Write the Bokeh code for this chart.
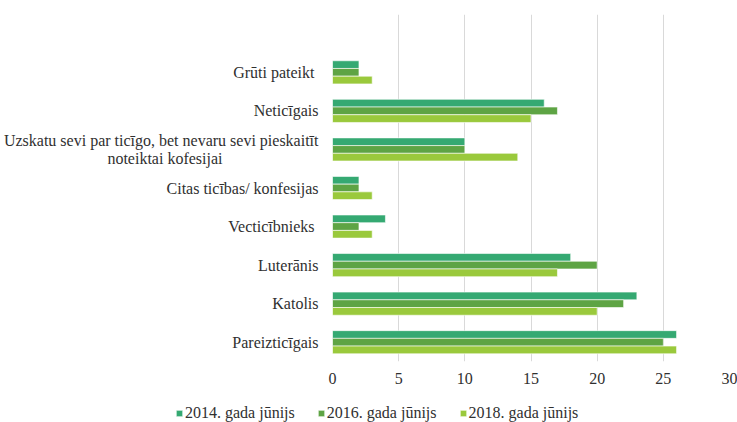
from bokeh.plotting import figure
from bokeh.layouts import column
from bokeh.models import ColumnDataSource, FactorRange, Range1d, FixedTicker, Legend, LegendItem
from bokeh.transform import dodge
from bokeh.embed import file_html
from bokeh.resources import INLINE

NB = "\u00a0"
categories = [
    "Grūti pateikt" + NB,
    "Neticīgais",
    "Uzskatu sevi par ticīgo, bet nevaru sevi pieskaitīt\nnoteiktai kofesijai" + NB * 24,
    "Citas ticības/ konfesijas",
    "Vecticībnieks" + NB,
    "Luterānis",
    "Katolis",
    "Pareizticīgais",
]
y2014 = [2, 16, 10, 2, 4, 18, 23, 26]
y2016 = [2, 17, 10, 2, 2, 20, 22, 25]
y2018 = [3, 15, 14, 3, 3, 17, 20, 26]
series_names = ["2014. gada jūnijs", "2016. gada jūnijs", "2018. gada jūnijs"]
colors = ["#35A972", "#5EA444", "#9AC93C"]
x_ticks = [0, 5, 10, 15, 20, 25, 30]

FONT = "Liberation Serif, Times New Roman, serif"
TXT = "#303030"

src = ColumnDataSource(dict(cat=categories, a=y2014, b=y2016, c=y2018))

factors = list(reversed(categories)) + [" "]
p = figure(width=737, height=395, output_backend="svg", toolbar_location=None,
           y_range=FactorRange(factors=factors, range_padding=0),
           x_range=Range1d(0, 30))
p.min_border_left = 332
p.min_border_top = 14
p.min_border_right = 8
p.min_border_bottom = 34
p.outline_line_color = None
p.background_fill_color = "white"
p.border_fill_color = "white"
p.frame_align = False

for col, off, color in zip(["a", "b", "c"], [0.2, 0.0, -0.2], colors):
    p.hbar(y=dodge("cat", off, range=p.y_range), right=col, left=0, height=0.2,
           source=src, fill_color=color, line_color="white", line_width=0.6)

p.xaxis.ticker = FixedTicker(ticks=x_ticks)
p.xgrid.ticker = FixedTicker(ticks=x_ticks)
p.xgrid.grid_line_color = "#D9D9D9"
p.xgrid.grid_line_width = 1
p.ygrid.grid_line_color = None

for ax in (p.xaxis, p.yaxis):
    ax.axis_line_color = None
    ax.major_tick_line_color = None
    ax.minor_tick_line_color = None
    ax.major_tick_out = 0
    ax.major_tick_in = 0
    ax.major_label_text_font = FONT
    ax.major_label_text_font_size = "16px"
    ax.major_label_text_color = TXT
    ax.major_label_text_line_height = 1.05

p.xaxis.major_label_standoff = 11
p.yaxis.major_label_standoff = 14

# legend strip below the chart
lg = figure(width=737, height=27, output_backend="svg", toolbar_location=None,
            x_range=Range1d(0, 1), y_range=Range1d(0, 1),
            x_axis_location=None, y_axis_location=None)
lg.min_border = 0
lg.outline_line_color = None
lg.grid.visible = False
lg.frame_align = False
items = []
for n, color in zip(series_names, colors):
    r = lg.hbar(y=[float("nan")], right=[float("nan")], left=0, height=0.2,
                fill_color=color, line_color="white", line_width=0.6)
    items.append(LegendItem(label=n, renderers=[r]))
legend = Legend(items=items, orientation="horizontal", location=(175, 0),
                glyph_width=8, glyph_height=8, label_standoff=2, spacing=22,
                padding=2, margin=0, border_line_color=None, background_fill_alpha=0,
                label_text_font=FONT, label_text_font_size="16px", label_text_color=TXT,
                label_height=16)
lg.add_layout(legend)

layout = column(p, lg, spacing=0)
open("out.html", "w").write(file_html(layout, INLINE))
